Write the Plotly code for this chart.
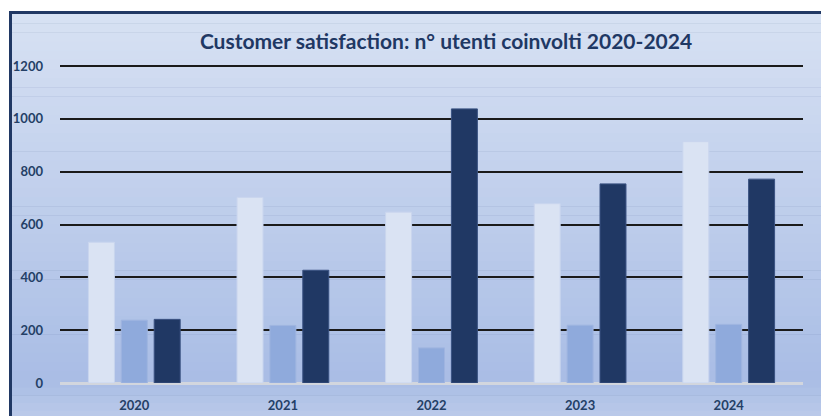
import plotly.graph_objects as go

years = ["2020", "2021", "2022", "2023", "2024"]
serie_a = [533, 703, 647, 679, 914]
serie_b = [238, 218, 133, 219, 222]
serie_c = [241, 427, 1038, 754, 772]
y_ticks = [0, 200, 400, 600, 800, 1000, 1200]

W, H = 821, 416
L, R, T, B = 60, 18, 64, 33
pw, ph = W - L - R, H - T - B

def px_to_paper_x(px):
    return (px - L) / pw

def px_to_paper_y(py):
    return (H - B - py) / ph

def lerp(c1, c2, t):
    return "rgb(%d,%d,%d)" % tuple(round(a + (b - a) * t) for a, b in zip(c1, c2))

top_c = (215, 225, 243)
mid_c = (169, 189, 229)
bot_c = (191, 205, 234)

shapes = []
# navy frame
shapes.append(dict(type="rect", xref="paper", yref="paper", layer="below",
                   x0=px_to_paper_x(9), x1=px_to_paper_x(W + 20),
                   y0=px_to_paper_y(H + 20), y1=px_to_paper_y(11),
                   fillcolor="#203864", line=dict(width=0)))
# gradient background strips
y_start, y_mid, y_end = 14, 380, H + 10
n1, n2 = 40, 6
for i in range(n1):
    a = y_start + (y_mid - y_start) * i / n1
    b = y_start + (y_mid - y_start) * (i + 1) / n1
    shapes.append(dict(type="rect", xref="paper", yref="paper", layer="below",
                       x0=px_to_paper_x(12), x1=px_to_paper_x(W + 20),
                       y0=px_to_paper_y(b + 0.5), y1=px_to_paper_y(a),
                       fillcolor=lerp(top_c, mid_c, (i + 0.5) / n1), line=dict(width=0)))
for i in range(n2):
    a = y_mid + (y_end - y_mid) * i / n2
    b = y_mid + (y_end - y_mid) * (i + 1) / n2
    shapes.append(dict(type="rect", xref="paper", yref="paper", layer="below",
                       x0=px_to_paper_x(12), x1=px_to_paper_x(W + 20),
                       y0=px_to_paper_y(b + 0.5), y1=px_to_paper_y(a),
                       fillcolor=lerp(mid_c, bot_c, (i + 0.5) / n2), line=dict(width=0)))

fig = go.Figure()
fig.add_trace(go.Bar(x=years, y=serie_a, marker=dict(color="#dae3f3", line=dict(color="#c9d5ee", width=1))))
fig.add_trace(go.Bar(x=years, y=serie_b, marker=dict(color="#8faadc", line=dict(color="#9fb5e0", width=1))))
fig.add_trace(go.Bar(x=years, y=serie_c, marker=dict(color="#203864", line=dict(color="#3a5282", width=1))))

label_font = dict(family="Lato, 'Open Sans', sans-serif", size=13, color="#243f66", weight="bold")

fig.update_layout(
    width=W, height=H,
    margin=dict(l=L, r=R, t=T, b=B, pad=0),
    paper_bgcolor="white",
    plot_bgcolor="rgba(0,0,0,0)",
    showlegend=False,
    barmode="group",
    bargap=0.336,
    bargroupgap=0.21,
    shapes=shapes,
    title=dict(text="<b>Customer satisfaction: n° utenti coinvolti 2020-2024</b>",
               x=446 / W, xanchor="center", y=1 - 42 / H, yanchor="middle",
               font=dict(family="Lato, 'Open Sans', sans-serif", size=21, color="#1f3864")),
    xaxis=dict(showgrid=False, showline=False, zeroline=False, ticks="",
               tickfont=label_font, ticklabelstandoff=13, automargin=False),
    yaxis=dict(range=[0, 1208], tickvals=y_ticks, showgrid=True, gridcolor="#1a1a1a",
               gridwidth=2, zeroline=True, zerolinecolor="#d2d6de", zerolinewidth=3,
               showline=False, ticks="", tickfont=label_font, ticklabelstandoff=16,
               automargin=False),
)

fig.write_html("out.html")
